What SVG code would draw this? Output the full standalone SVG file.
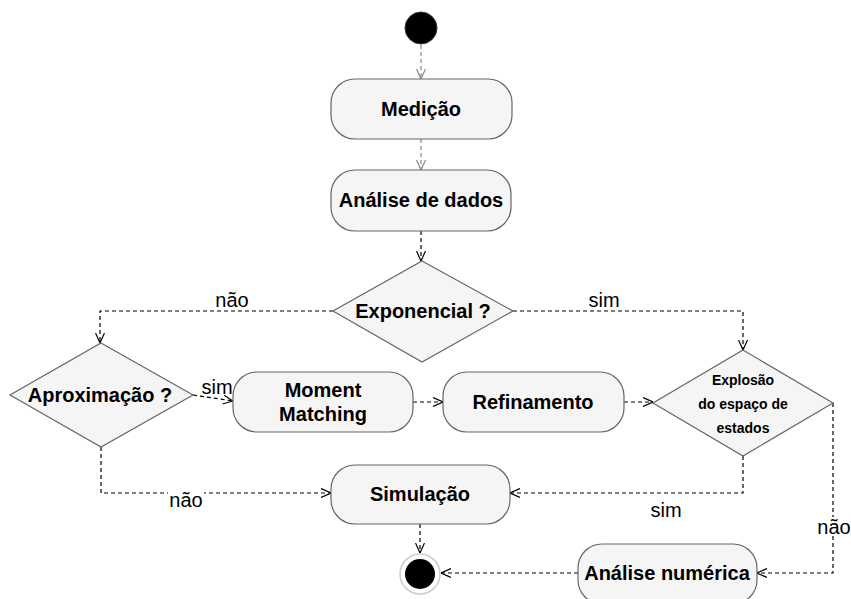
<svg xmlns="http://www.w3.org/2000/svg" width="851" height="599" viewBox="0 0 851 599">
  <style>
    .box { fill: #f5f5f5; stroke: #666666; stroke-width: 1.2; }
    .t { font-family: "Liberation Sans", Arial, sans-serif; font-weight: bold; font-size: 20px; fill: #000; text-anchor: middle; }
    .ts { font-family: "Liberation Sans", Arial, sans-serif; font-weight: bold; font-size: 14px; fill: #000; text-anchor: middle; }
    .lbl { font-family: "Liberation Sans", Arial, sans-serif; font-size: 20px; fill: #000; text-anchor: middle; }
    .edge { fill: none; stroke: #000; stroke-width: 1.2; stroke-dasharray: 4 3; marker-end: url(#arrow); }
    .edge.grey { stroke: #888888; marker-end: url(#arrowGrey); }
    .bg { fill: #ffffff; }
  </style>
  <defs>
    <marker id="arrow" viewBox="0 0 10 10" refX="10" refY="5" markerWidth="10" markerHeight="10" markerUnits="userSpaceOnUse" orient="auto">
      <path d="M0,0.5 L10,5 L0,9.5" fill="none" stroke="#000" stroke-width="1.2"/>
    </marker>
    <marker id="arrowGrey" viewBox="0 0 10 10" refX="10" refY="5" markerWidth="10" markerHeight="10" markerUnits="userSpaceOnUse" orient="auto">
      <path d="M0,0.5 L10,5 L0,9.5" fill="none" stroke="#888888" stroke-width="1.2"/>
    </marker>
  </defs>

  <rect width="851" height="599" fill="#ffffff"/>

  <!-- connectors -->
  <g id="connectors">
    <path class="edge grey" d="M421,45 V79"/>
    <path class="edge grey" d="M421,139 V170"/>
    <path class="edge" d="M421,231 V261"/>
    <path class="edge" d="M333,311 H100 V343"/>
    <path class="edge" d="M513,311 H743 V350"/>
    <path class="edge" d="M193,395 L233,401"/>
    <path class="edge" d="M413,402 H443"/>
    <path class="edge" d="M624,402 H653"/>
    <path class="edge" d="M743,456 V493 H510"/>
    <path class="edge" d="M833,403 V573 H757"/>
    <path class="edge" d="M101,447 V493 H331"/>
    <path class="edge" d="M420,524 V553"/>
    <path class="edge" d="M578,573 H441"/>

    <!-- edge labels -->
    <text class="lbl" x="232" y="307">não</text>
    <text class="lbl" x="604" y="307">sim</text>
    <rect class="bg" x="200" y="377" width="33" height="17"/>
    <text class="lbl" x="217" y="394">sim</text>
    <rect class="bg" x="168" y="490" width="36" height="18"/>
    <text class="lbl" x="186" y="507">não</text>
    <text class="lbl" x="666" y="517">sim</text>
    <rect class="bg" x="816" y="517" width="35" height="19"/>
    <text class="lbl" x="834" y="534">não</text>
  </g>

  <!-- nodes -->
  <g id="start">
    <circle cx="421" cy="28" r="16" fill="#000" stroke="#333" stroke-width="1"/>
  </g>

  <g id="medicao">
    <rect class="box" x="331" y="79" width="181" height="60" rx="24"/>
    <text class="t" x="421" y="116">Medição</text>
  </g>

  <g id="analise-dados">
    <rect class="box" x="331" y="170" width="180" height="61" rx="24"/>
    <text class="t" x="421" y="207">Análise de dados</text>
  </g>

  <g id="exponencial">
    <polygon class="box" points="422,261 513,311 422,362 333,311"/>
    <text class="t" x="423" y="318">Exponencial ?</text>
  </g>

  <g id="aproximacao">
    <polygon class="box" points="101,343 193,395 101,447 10,395"/>
    <text class="t" x="100" y="402">Aproximação ?</text>
  </g>

  <g id="moment-matching">
    <rect class="box" x="233" y="372" width="180" height="60" rx="24"/>
    <text class="t" x="323" y="397">Moment</text>
    <text class="t" x="323" y="421">Matching</text>
  </g>

  <g id="refinamento">
    <rect class="box" x="443" y="372" width="181" height="60" rx="24"/>
    <text class="t" x="533" y="409">Refinamento</text>
  </g>

  <g id="explosao">
    <polygon class="box" points="743,350 833,403 743,456 653,403"/>
    <text class="ts" x="743" y="385">Explosão</text>
    <text class="ts" x="743" y="409">do espaço de</text>
    <text class="ts" x="743" y="433">estados</text>
  </g>

  <g id="simulacao">
    <rect class="box" x="331" y="465" width="179" height="59" rx="24"/>
    <text class="t" x="420" y="501">Simulação</text>
  </g>

  <g id="analise-numerica">
    <rect class="box" x="578" y="544" width="179" height="60" rx="24"/>
    <text class="t" x="667" y="580">Análise numérica</text>
  </g>

  <g id="end">
    <circle cx="420" cy="574" r="20" fill="#ffffff" stroke="#cccccc" stroke-width="1.5"/>
    <circle cx="420" cy="574" r="15" fill="#000"/>
  </g>
</svg>
